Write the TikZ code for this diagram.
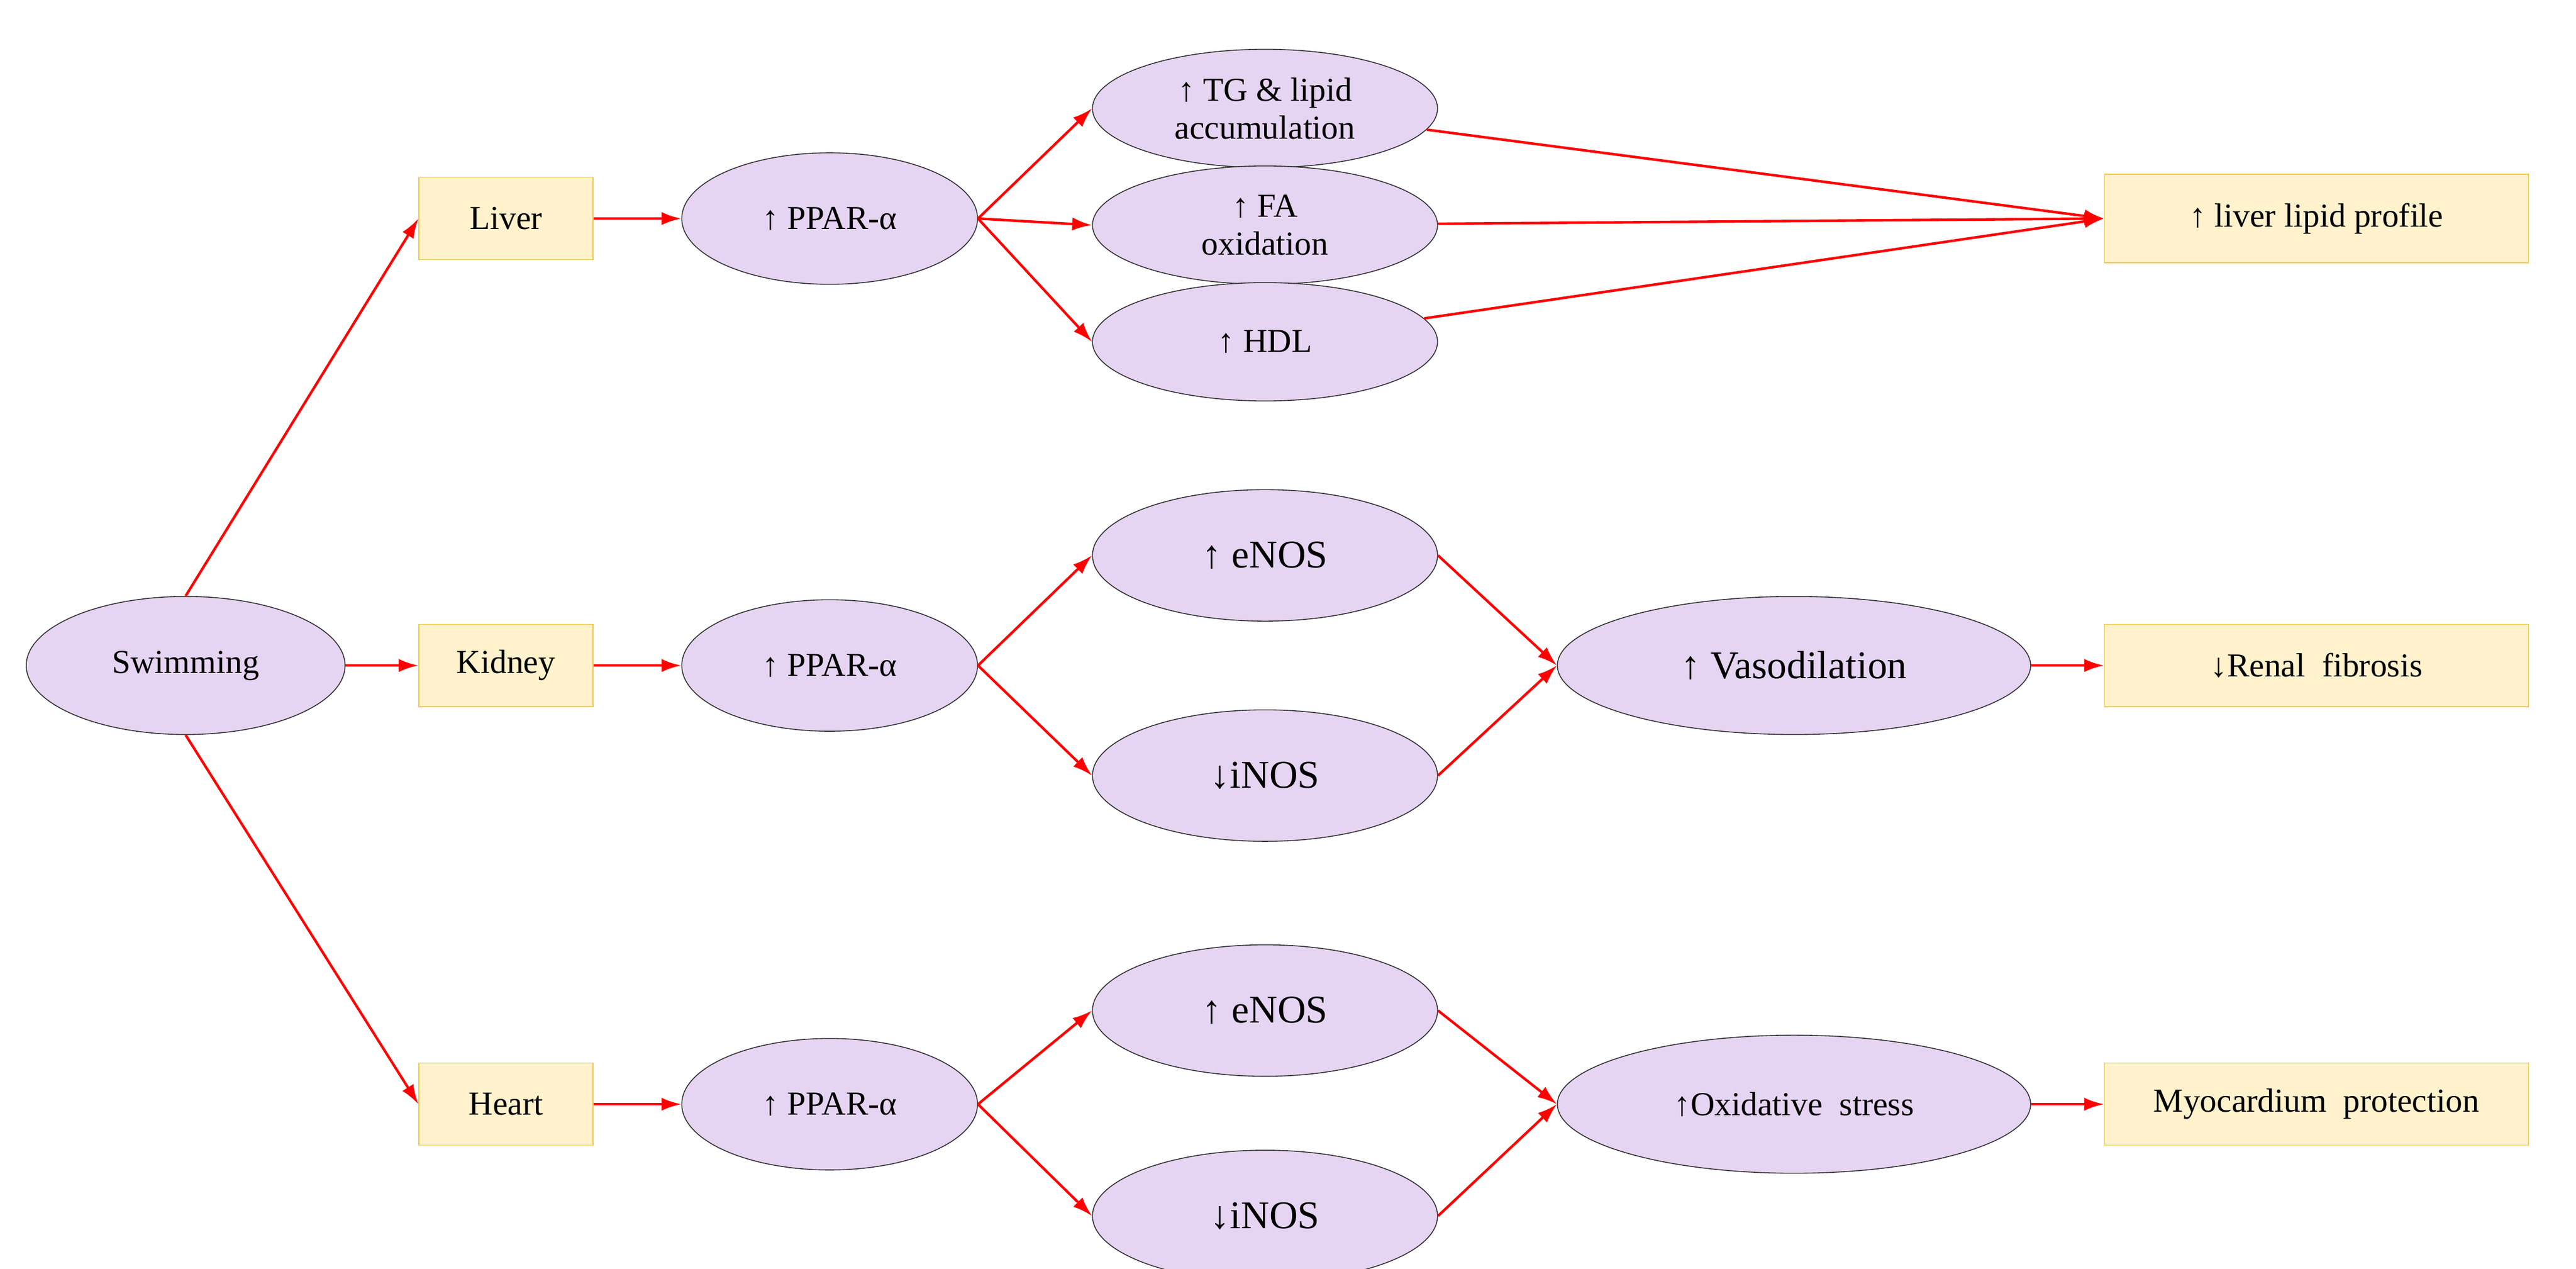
\documentclass[tikz,border=0pt]{standalone}
\usepackage{fontspec}
\setmainfont{Liberation Serif}
\usetikzlibrary{shapes.geometric,arrows.meta}
\definecolor{lav}{HTML}{E6D5F2}
\definecolor{sand}{HTML}{FFF2CC}
\definecolor{gold}{HTML}{F2C84B}
\begin{document}
\begin{tikzpicture}[x=0.025cm,y=-0.025cm,
	oval/.style={ellipse,draw=black!80,fill=lav,inner sep=0pt,font=\fontsize{14.5}{16.5}\selectfont,align=center},
	organ/.style={rectangle,draw=gold,fill=sand,minimum height=1.25cm,font=\fontsize{14.5}{16.5}\selectfont},
	big/.style={font=\fontsize{17}{19}\selectfont},
	link/.style={-{Latex[length=3mm,width=2mm]},red,line width=1.1pt}]
	\useasboundingbox (0,0) rectangle (1568,772);
	\node[oval,minimum width=4.85cm,minimum height=2.1cm] at (113,405) (swim) {Swimming};
	\node[organ,minimum width=2.65cm] at (308,133) (liver) {Liver};
	\node[organ,minimum width=2.65cm] at (308,405) (kidney) {Kidney};
	\node[organ,minimum width=2.65cm] at (308,672) (heart) {Heart};
	\node[oval,minimum width=4.5cm,minimum height=2cm] at (505,133) (pl) {↑ PPAR-α};
	\node[oval,minimum width=4.5cm,minimum height=2cm] at (505,405) (pk) {↑ PPAR-α};
	\node[oval,minimum width=4.5cm,minimum height=2cm] at (505,672) (ph) {↑ PPAR-α};
	\node[oval,minimum width=5.25cm,minimum height=1.8cm] at (770,66) (tg) {↑ TG \& lipid\\accumulation};
	\node[oval,minimum width=5.25cm,minimum height=1.8cm] at (770,137) (fa) {↑ FA\\oxidation};
	\node[oval,minimum width=5.25cm,minimum height=1.8cm] at (770,208) (hdl) {↑ HDL};
	\node[oval,big,minimum width=5.25cm,minimum height=2cm] at (770,338) (ek) {↑ eNOS};
	\node[oval,big,minimum width=5.25cm,minimum height=2cm] at (770,472) (ik) {↓iNOS};
	\node[oval,big,minimum width=5.25cm,minimum height=2cm] at (770,615) (eh) {↑ eNOS};
	\node[oval,big,minimum width=5.25cm,minimum height=2cm] at (770,740) (ih) {↓iNOS};
	\node[oval,big,minimum width=7.2cm,minimum height=2.1cm] at (1092,405) (vaso) {↑ Vasodilation};
	\node[oval,minimum width=7.2cm,minimum height=2.1cm] at (1092,672) (ox) {↑Oxidative~ stress};
	\node[organ,minimum width=6.45cm,minimum height=1.35cm] at (1410,133) (lip) {↑ liver lipid profile};
	\node[organ,minimum width=6.45cm] at (1410,405) (ren) {↓Renal~ fibrosis};
	\node[organ,minimum width=6.45cm] at (1410,672) (myo) {Myocardium~ protection};

	\path[link] (swim.north) edge (liver.west)
		(swim) edge (kidney)
		(swim.south) edge (heart.west)
		(liver) edge (pl) (kidney) edge (pk) (heart) edge (ph)
		(pl.east) edge (tg.west) edge (fa.west) edge (hdl.west)
		(tg) edge (lip.west) (fa) edge (lip.west) (hdl) edge (lip.west)
		(pk.east) edge (ek.west) edge (ik.west)
		(ek.east) edge (vaso.west) (ik.east) edge (vaso.west)
		(ph.east) edge (eh.west) edge (ih.west)
		(eh.east) edge (ox.west) (ih.east) edge (ox.west)
		(vaso) edge (ren) (ox) edge (myo);
\end{tikzpicture}
\end{document}
